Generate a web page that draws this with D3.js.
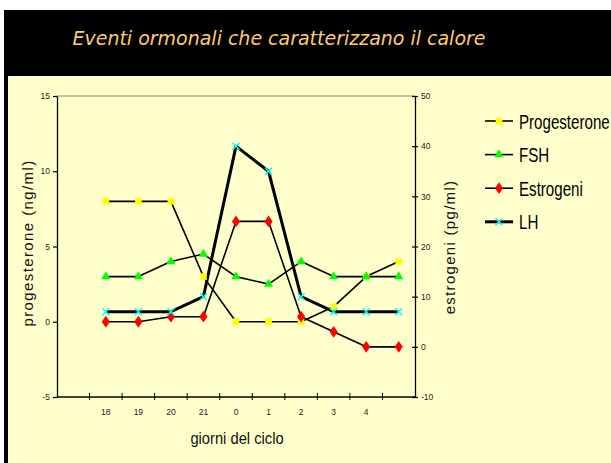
<!DOCTYPE html>
<html>
<head>
<meta charset="utf-8">
<script src="https://cdn.jsdelivr.net/npm/d3@7"></script>
<style>
  body { margin: 0; background: #fff; }
  svg { display: block; }
</style>
</head>
<body>
<div id="chart"></div>
<script>
// categories along x: first and last band have no label
const giorni = ["", "18", "19", "20", "21", "0", "1", "2", "3", "4", " "];
const giorniDati = ["18", "19", "20", "21", "0", "1", "2", "3", "4", " "];

const progesterone = [8, 8, 8, 3, 0, 0, 0, 1, 3, 4];
const fsh = [3, 3, 4, 4.5, 3, 2.5, 4, 3, 3, 3];
const estrogeni = [5, 5, 6, 6, 25, 25, 6, 3, 0, 0];
const lh = [7, 7, 7, 10, 40, 35, 10, 7, 7, 7];

const leftTicks = [-5, 0, 5, 10, 15];
const rightTicks = [-10, 0, 10, 20, 30, 40, 50];

let dim = { width: 611, height: 463 };

let svg = d3.select("#chart").append("svg")
  .attr("width", dim.width)
  .attr("height", dim.height);

// slide background
svg.append("rect").attr("x", 4).attr("y", 10).attr("width", 607).attr("height", 453).attr("fill", "#000");
svg.append("rect").attr("x", 8).attr("y", 76).attr("width", 603).attr("height", 387).attr("fill", "#FFFFCC");

svg.append("text")
  .attr("x", 279).attr("y", 45)
  .attr("text-anchor", "middle")
  .attr("font-family", "'Comic Sans MS', 'DejaVu Sans', sans-serif")
  .attr("font-style", "italic")
  .attr("font-size", 19)
  .attr("fill", "#FFCC66")
  .attr("textLength", 413)
  .attr("lengthAdjust", "spacingAndGlyphs")
  .text("Eventi ormonali che caratterizzano il calore");

let x = d3.scaleBand().domain(giorni).range([57, 415]).padding(0);
let yLeft = d3.scaleLinear().domain([-5, 15]).range([397, 96]);
let yRight = d3.scaleLinear().domain([-10, 50]).range([397, 96]);

let g = svg.append("g").attr("font-family", "Arial, 'Liberation Sans', sans-serif");

// top border of plot area
g.append("line")
  .attr("x1", x.range()[0]).attr("x2", x.range()[1])
  .attr("y1", yLeft(15)).attr("y2", yLeft(15))
  .attr("stroke", "#888").attr("stroke-width", 1);

// left axis
let axL = g.append("g")
  .attr("transform", "translate(" + x.range()[0] + ",0)")
  .call(d3.axisLeft(yLeft).tickValues(leftTicks).tickFormat((d) => String(d))
    .tickSizeInner(4).tickSizeOuter(0).tickPadding(3));

// right axis, ticks cross the line
let axR = g.append("g")
  .attr("transform", "translate(" + x.range()[1] + ",0)")
  .call(d3.axisRight(yRight).tickValues(rightTicks).tickFormat((d) => String(d))
    .tickSizeInner(3).tickSizeOuter(0).tickPadding(3));
axR.selectAll(".tick line").attr("x1", -3);

// bottom axis: labels centred in bands, ticks on band edges
let axB = g.append("g")
  .attr("transform", "translate(0," + yLeft(-5) + ")")
  .call(d3.axisBottom(x).tickSize(0).tickPadding(12));
axB.select(".domain").attr("d", "M" + x.range()[0] + ",0H" + x.range()[1]);
axB.selectAll(".edge")
  .data(giorni.slice(1))
  .join("line")
  .attr("class", "edge")
  .attr("x1", (d) => x(d)).attr("x2", (d) => x(d))
  .attr("y1", -4).attr("y2", 3)
  .attr("stroke", "#000");

[axL, axR, axB].forEach(function (a) {
  a.select(".domain").attr("stroke", "#000").attr("stroke-width", 1.3);
  a.selectAll(".tick line").attr("stroke", "#000").attr("stroke-width", 1.2);
  a.selectAll(".tick text").attr("font-size", 8.5).attr("fill", "#222").attr("font-family", "Arial, 'Liberation Sans', sans-serif");
});

// axis titles
g.append("text")
  .attr("transform", "translate(33,243) rotate(-90)")
  .attr("text-anchor", "middle")
  .attr("font-size", 15)
  .attr("letter-spacing", 1.4)
  .attr("fill", "#111")
  .text("progesterone (ng/ml)");

g.append("text")
  .attr("transform", "translate(455,247) rotate(-90)")
  .attr("text-anchor", "middle")
  .attr("font-size", 15)
  .attr("letter-spacing", 1.3)
  .attr("fill", "#111")
  .text("estrogeni (pg/ml)");

g.append("text")
  .attr("transform", "translate(237,444) scale(0.92,1)")
  .attr("text-anchor", "middle")
  .attr("font-size", 16)
  .attr("fill", "#111")
  .text("giorni del ciclo");

let cx = (d, i) => x(giorniDati[i]) + x.bandwidth() / 2;

let series = [
  { name: "Progesterone", values: progesterone, y: yLeft, color: "#FFFF00", sym: "square", width: 1.6 },
  { name: "FSH", values: fsh, y: yLeft, color: "#00FF00", sym: "triangle", width: 1.6 },
  { name: "Estrogeni", values: estrogeni, y: yRight, color: "#FF0000", sym: "diamond", width: 1.6 },
  { name: "LH", values: lh, y: yRight, color: "#00FFFF", sym: "x", width: 3 }
];

function drawMarker(sel, s, px, py) {
  if (s.sym === "x") {
    let r = 3.5;
    sel.append("path")
      .attr("d", "M" + (px - r) + "," + (py - r) + "L" + (px + r) + "," + (py + r) +
        "M" + (px - r) + "," + (py + r) + "L" + (px + r) + "," + (py - r))
      .attr("stroke", s.color).attr("stroke-width", 1.5).attr("fill", "none");
    return;
  }
  let type = s.sym === "square" ? d3.symbolSquare : s.sym === "triangle" ? d3.symbolTriangle : d3.symbolDiamond;
  let size = s.sym === "square" ? 44 : s.sym === "triangle" ? 36 : 40;
  sel.append("path")
    .attr("d", d3.symbol().type(type).size(size))
    .attr("transform", "translate(" + px + "," + py + ")" + (s.sym === "diamond" ? " scale(1.2,1)" : ""))
    .attr("fill", s.color);
}

let lines = g.append("g");
let marks = g.append("g");

series.forEach(function (s) {
  let line = d3.line().x(cx).y((d) => s.y(d));
  lines.append("path")
    .datum(s.values)
    .attr("d", line)
    .attr("fill", "none")
    .attr("stroke", "#000")
    .attr("stroke-width", s.width)
    .attr("stroke-linejoin", "round");
  s.values.forEach(function (v, i) {
    drawMarker(marks, s, cx(v, i), s.y(v));
  });
});

// legend
let legend = g.append("g");
series.forEach(function (s, i) {
  let ly = 121 + i * 33.6;
  legend.append("line")
    .attr("x1", 485).attr("x2", 513)
    .attr("y1", ly).attr("y2", ly)
    .attr("stroke", "#000").attr("stroke-width", s.width);
  drawMarker(legend, s, 499, ly);
  legend.append("text")
    .attr("transform", "translate(519," + (ly + 7.5) + ") scale(0.72,1)")
    .attr("font-size", 21)
    .attr("fill", "#000")
    .text(s.name);
});
</script>
</body>
</html>
